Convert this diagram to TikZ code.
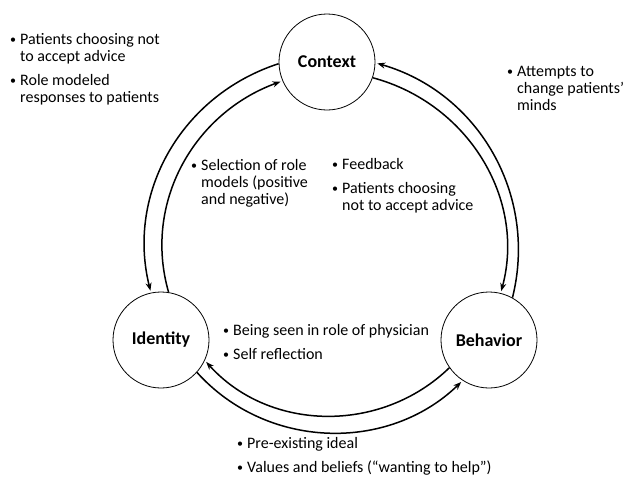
\documentclass[tikz,border=0pt]{standalone}
\usepackage{fontspec}
\setmainfont{Carlito}
\usetikzlibrary{arrows.meta}
\newcommand\bitem[1]{\par\hangindent=10pt\hangafter=1\noindent\makebox[10pt][l]{\raisebox{0.5pt}{\fontsize{12}{12}\selectfont\textbullet}}#1\par}
\newcommand\igap{\vspace{7pt}}
\newcommand\blk[2]{\parbox[t]{#1}{#2}}
\begin{document}
\begin{tikzpicture}[x=1pt,y=1pt,
  stage/.style={circle, draw, line width=0.8pt, minimum size=96pt, inner sep=0pt, font=\fontsize{18}{18}\selectfont\bfseries},
  flow/.style={line width=1.5pt, -{Stealth[length=8pt,width=6pt]}, shorten >=2pt},
  txt/.style={anchor=base west, inner sep=0pt, font=\fontsize{16}{17}\selectfont}]
\useasboundingbox (0,0) rectangle (624,-477);
\node[stage] (ctx) at (327,-62) {Context};
\node[stage] (id) at (161,-340) {Identity};
\node[stage] (beh) at (489,-340) {Behavior};

\draw[flow] (beh.61) to[out=76,in=-16] (ctx.-1);
\draw[flow] (ctx.-19) to[out=-15,in=75] (beh.76);
\draw[flow] (ctx.182) to[out=198,in=104] (id.102);
\draw[flow] (id.81) to[out=106,in=200] (ctx.203);
\draw[flow] (id.-42) to[out=-48,in=224] (beh.237);
\draw[flow] (beh.215) to[out=224,in=-48] (id.-25);

\node[txt] (tl) at (10,-44) {\blk{170pt}{\bitem{Patients choosing not\\to accept advice}\igap\bitem{Role modeled\\responses to patients}}};
\node[txt] (tr) at (507,-76) {\blk{120pt}{\bitem{Attempts to\\change patients’\\minds}}};
\node[txt] (cr) at (332,-169) {\blk{160pt}{\bitem{Feedback}\igap\bitem{Patients choosing\\not to accept advice}}};
\node[txt] (cl) at (191,-170) {\blk{140pt}{\bitem{Selection of role\\models (positive\\and negative)}}};
\node[txt] (bc) at (223,-335) {\blk{260pt}{\bitem{Being seen in role of physician}\igap\bitem{Self reflection}}};
\node[txt] (bt) at (237,-448) {\blk{280pt}{\bitem{Pre-existing ideal}\igap\bitem{Values and beliefs (“wanting to help”)}}};
\end{tikzpicture}
\end{document}
